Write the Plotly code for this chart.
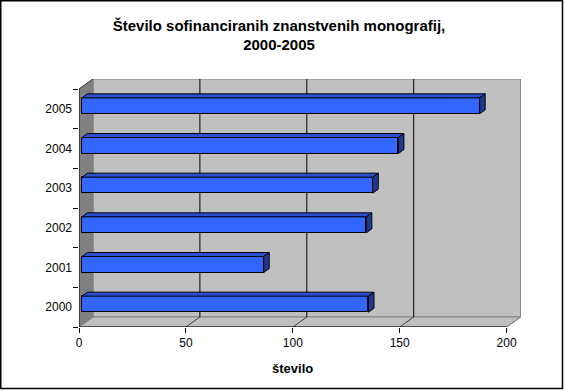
import plotly.graph_objects as go

# ---- data ----
years = ["2000", "2001", "2002", "2003", "2004", "2005"]
values = [134, 85, 133, 136, 148, 186]
x_ticks = [0, 50, 100, 150, 200]
title_text = "<b>Število sofinanciranih znanstvenih monografij,<br>2000-2005</b>"
x_title = "<b>število</b>"

# ---- geometry (pixel-based layout helpers) ----
W, H = 565, 391
L, R, T, B = 79, 44, 79, 64
plot_w = W - L - R
plot_h = H - T - B
px_per_unit = 427.6 / 200.0
x_max = plot_w / px_per_unit
band_px = 238 / 6.0
y_min = -0.5
y_max = y_min + plot_h / band_px

back_dx = 14 / px_per_unit      # depth offset of back wall (x)
back_dy = 10 / band_px          # depth offset of back wall (y)
bar_dx = 3 / px_per_unit        # bar front plane offset
bar_dy = 3 / band_px
bar_h = 16 / band_px
depth_dx = 5.5 / px_per_unit    # bar depth
depth_dy = 4 / band_px

pos = list(range(len(years)))

fig = go.Figure()

shapes = []
# back wall
shapes.append(dict(type="rect", xref="x", yref="y", x0=back_dx, x1=200 + back_dx,
                   y0=y_min + back_dy, y1=5.5 + back_dy,
                   fillcolor="#C0C0C0", line=dict(color="#808080", width=1), layer="below"))
# floor
shapes.append(dict(type="path", xref="x", yref="y",
                   path=f"M 0 {y_min} L 200 {y_min} L {200+back_dx} {y_min+back_dy} L {back_dx} {y_min+back_dy} Z",
                   fillcolor="#C0C0C0", line=dict(color="#808080", width=1), layer="below"))
# left side wall
shapes.append(dict(type="path", xref="x", yref="y",
                   path=f"M 0 {y_min} L 0 5.5 L {back_dx} {5.5+back_dy} L {back_dx} {y_min+back_dy} Z",
                   fillcolor="#808080", line=dict(color="#808080", width=1), layer="below"))
shapes.append(dict(type="line", xref="x", yref="y", x0=0, y0=5.5, x1=back_dx, y1=5.5 + back_dy,
                   line=dict(color="#404040", width=1), layer="below"))
# gridlines on back wall + diagonal floor lines
for v in x_ticks:
    if 0 < v < 200:
        shapes.append(dict(type="line", xref="x", yref="y", x0=v + back_dx, x1=v + back_dx,
                           y0=y_min + back_dy, y1=5.5 + back_dy,
                           line=dict(color="black", width=1), layer="below"))
    if v > 0:
        shapes.append(dict(type="line", xref="x", yref="y", x0=v, y0=y_min,
                           x1=v + back_dx, y1=y_min + back_dy,
                           line=dict(color="#404040" if v < 200 else "#808080", width=1), layer="below"))
# front axis lines
shapes.append(dict(type="line", xref="x", yref="y", x0=0, x1=200, y0=y_min, y1=y_min,
                   line=dict(color="black", width=1)))
shapes.append(dict(type="line", xref="x", yref="y", x0=0, x1=0, y0=y_min, y1=5.5,
                   line=dict(color="black", width=1)))
# outer chart border
def px2paper_x(p):
    return (p - L) / plot_w
def px2paper_y(p):
    return (H - B - p) / plot_h
shapes.append(dict(type="rect", xref="paper", yref="paper",
                   x0=px2paper_x(0.75), x1=px2paper_x(562.5),
                   y0=px2paper_y(388.5), y1=px2paper_y(0.75),
                   line=dict(color="black", width=1.5), fillcolor="rgba(0,0,0,0)"))

# bars: front face
fig.add_trace(go.Bar(
    y=[p + bar_dy for p in pos], x=values, base=[bar_dx] * len(values),
    orientation="h", width=bar_h,
    marker=dict(color="#3366FF", line=dict(color="black", width=1)),
    hoverinfo="skip", showlegend=False))

# bars: top and right faces built from the values
for p, v in zip(pos, values):
    x0 = bar_dx
    x1 = v + bar_dx
    yt = p + bar_dy + bar_h / 2
    yb = p + bar_dy - bar_h / 2
    fig.add_trace(go.Scatter(
        x=[x0, x1, x1 + depth_dx, x0 + depth_dx, x0],
        y=[yt, yt, yt + depth_dy, yt + depth_dy, yt],
        mode="lines", fill="toself", fillcolor="#2A50D0",
        line=dict(color="black", width=1), hoverinfo="skip", showlegend=False))
    fig.add_trace(go.Scatter(
        x=[x1, x1 + depth_dx, x1 + depth_dx, x1, x1],
        y=[yb, yb + depth_dy, yt + depth_dy, yt, yb],
        mode="lines", fill="toself", fillcolor="#1E3A90",
        line=dict(color="black", width=1), hoverinfo="skip", showlegend=False))

fig.update_layout(
    width=W, height=H,
    margin=dict(l=L, r=R, t=T, b=B, pad=0),
    paper_bgcolor="white", plot_bgcolor="rgba(0,0,0,0)",
    font=dict(family="Liberation Sans, Arial, sans-serif", size=12, color="black"),
    title=dict(text=title_text, x=279 / W, xref="container", xanchor="center",
               y=1 - 30.5 / H, yref="container", yanchor="middle",
               font=dict(size=15, color="black")),
    shapes=shapes,
    bargap=0,
    xaxis=dict(range=[0, x_max], tickvals=x_ticks, ticktext=[str(t) for t in x_ticks],
               showgrid=False, zeroline=False, showline=False,
               ticks="outside", ticklen=5, tickcolor="black", tickwidth=1,
               fixedrange=True),
    yaxis=dict(range=[y_min, y_max], tickvals=pos, ticktext=years,
               showgrid=False, zeroline=False, showline=False, ticks="",
               ticklabelstandoff=6,
               minor=dict(tickvals=[i - 0.5 for i in range(len(years) + 1)],
                          ticks="outside", ticklen=5, tickcolor="black", tickwidth=1),
               fixedrange=True),
    annotations=[dict(text=x_title, xref="x", yref="paper", x=100, y=px2paper_y(368),
                      showarrow=False, xanchor="center", yanchor="middle",
                      font=dict(size=13, color="black"))],
)

fig.write_html("out.html", config={"displayModeBar": False},
               post_script="document.body.style.margin='0';document.body.style.overflow='hidden';")
